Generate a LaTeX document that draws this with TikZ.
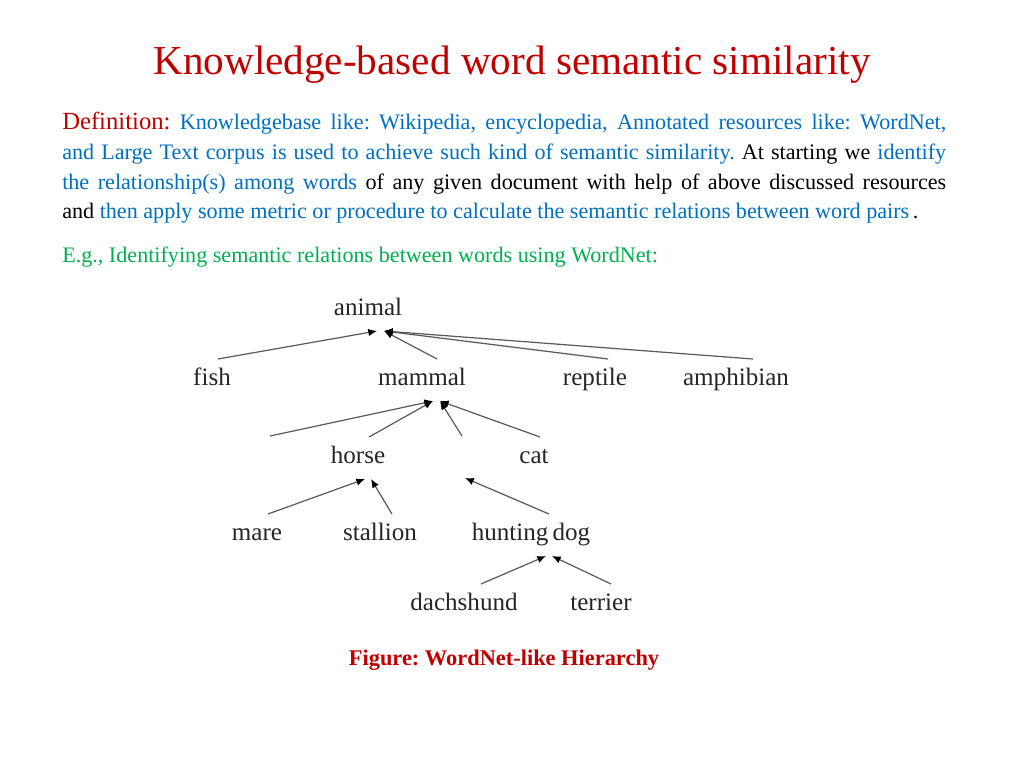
\documentclass[tikz,border=0pt]{standalone}
\usepackage{fontspec}
\setmainfont{Liberation Serif}
\usetikzlibrary{arrows.meta}
\frenchspacing

\definecolor{titlered}{HTML}{C00000}
\definecolor{defblue}{HTML}{0070C0}
\definecolor{egreen}{HTML}{00B050}
\newcommand{\jline}[1]{\makebox[663pt][s]{#1}}

\begin{document}
\begin{tikzpicture}[
  x=0.75pt,y=-0.75pt,
  w/.style={inner sep=0pt,outer sep=0pt,minimum height=30pt,text height=13pt,text depth=3.8pt,
    font=\fontsize{18.8}{20}\selectfont,text=black!85},
  edge/.style={-{Latex[length=6.5pt,width=5.5pt,color=black]},black!65,line width=0.9pt},
  para/.style={anchor=base west,inner sep=0pt,font=\fontsize{16.6}{20}\selectfont},
]
  \useasboundingbox[fill=white] (0,0) rectangle (1024,768);

  \node[anchor=base,inner sep=0pt,text=titlered,font=\fontsize{30.9}{36}\selectfont] (title) at (512,74)
    {Knowledge-based word semantic similarity};

  \node[para] (l1) at (62,129) {\jline{{\color{titlered}\fontsize{18.5}{20}\selectfont Definition:}
    \color{defblue}Knowledgebase like: Wikipedia, encyclopedia, Annotated resources like: WordNet,}};
  \node[para,text=defblue] (l2) at (62,159) {\jline{and Large Text corpus is used to achieve such kind of
    semantic similarity. {\color{black}At starting we} identify}};
  \node[para,text=defblue] (l3) at (62,189) {\jline{the relationship(s) among words {\color{black}of any
    given document with help of above discussed resources}}};
  \node[para,text=defblue] (l4) at (62,218) {{\color{black}and} then apply some metric or procedure to
    calculate the semantic relations between word pairs{\color{black}\,.}};
  \node[para,text=egreen] (eg) at (62,262) {E.g., Identifying semantic relations between words using WordNet:};

  % hierarchy
  \node[w] (animal) at (368,309) {animal};
  \node[w] (fish) at (212,379) {fish};
  \node[w] (mammal) at (422,379) {mammal};
  \node[w] (reptile) at (595,379) {reptile};
  \node[w] (amphibian) at (736,379) {amphibian};
  \node[w] (horse) at (358,457) {horse};
  \node[w] (cat) at (534,457) {cat};
  \node[w] (mare) at (257,534) {mare};
  \node[w] (stallion) at (380,534) {stallion};
  \node[w] (hunting) at (531,534) {hunting\hspace{-1.5pt} dog};
  \node[w] (dachshund) at (464,604) {dachshund};
  \node[w] (terrier) at (601,604) {terrier};

  \coordinate (animal-l) at ([shift={(9,2)}]animal.south);
  \coordinate (animal-r) at ([shift={(16,2)}]animal.south);
  \coordinate (mammal-l) at ([shift={(11,2)}]mammal.south);
  \coordinate (mammal-r) at ([shift={(18,2)}]mammal.south);
  \coordinate (horse-l) at ([shift={(7,2)}]horse.south);
  \coordinate (horse-r) at ([shift={(13,2)}]horse.south);
  \coordinate (hunting-l) at ([shift={(15,2)}]hunting.south);
  \coordinate (hunting-r) at ([shift={(21,2)}]hunting.south);
  \coordinate (ghost1) at (270,436);
  \coordinate (ghost2) at (462,436);
  \coordinate (ghost3) at (465,478);

  \foreach \c/\dx/\t in {fish/6/animal-l,mammal/15/animal-r,reptile/13/animal-r,amphibian/17/animal-r,
      horse/11/mammal-l,cat/6/mammal-r,mare/11/horse-l,stallion/12/horse-r,hunting/18/ghost3,
      dachshund/17/hunting-l,terrier/10/hunting-r}
    \draw[edge] ([shift={(\dx,0)}]\c.north)--(\t);
  \draw[edge] (ghost1)--(mammal-l);
  \draw[edge] (ghost2)--(mammal-r);

  \node[anchor=base,inner sep=0pt,text=titlered,font=\bfseries\fontsize{16.8}{20}\selectfont] (caption)
    at (504,665) {Figure: WordNet-like Hierarchy};
\end{tikzpicture}
\end{document}
